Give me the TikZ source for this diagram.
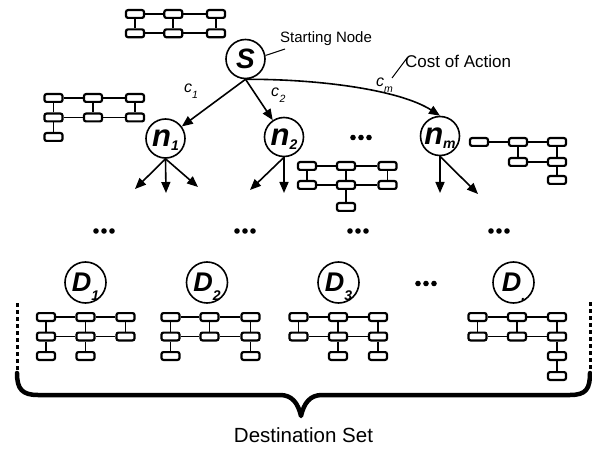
\documentclass[tikz,border=0pt]{standalone}
\usepackage{fontspec}
\setmainfont{Liberation Sans}
\usetikzlibrary{arrows.meta}

% two rows of three linked cells, every column joined top to bottom
\newcommand\blockgrid[6]{%
  \node[cell] (#1-11) at (#2,#5) {};
  \node[cell] (#1-12) at (#3,#5) {};
  \node[cell] (#1-13) at (#4,#5) {};
  \node[cell] (#1-21) at (#2,#6) {};
  \node[cell] (#1-22) at (#3,#6) {};
  \node[cell] (#1-23) at (#4,#6) {};
  \draw[link] (#1-11) -- (#1-12) -- (#1-13)
              (#1-21) -- (#1-22) -- (#1-23)
              (#1-11) -- (#1-21) (#1-12) -- (#1-22) (#1-13) -- (#1-23);
}
% three heavy dots standing for omitted items
\newcommand\dotrow[2]{%
  \foreach \dx in {-8,0,8} \fill (#1+\dx,#2) circle (2.8pt);
}
% bold italic state label with a lowered index
\newcommand\statelab[3]{#1\smash{\raisebox{#3}{\fontsize{14}{14}\selectfont #2}}}
% italic cost label with a lowered index
\newcommand\costlab[3]{{\fontsize{16}{16}\selectfont\itshape c}\kern#3{\fontsize{10.5}{10.5}\selectfont\itshape\raisebox{-6pt}{#2}}}

\tikzset{
  state/.style={circle, draw, line width=1.6pt, inner sep=0pt, minimum size=39pt,
                font=\fontsize{28}{28}\selectfont\bfseries\itshape},
  nstate/.style={state, font=\fontsize{31}{31}\selectfont\bfseries\itshape},
  dstate/.style={state, minimum size=41pt, font=\fontsize{27}{27}\selectfont\bfseries\itshape},
  cell/.style={draw, line width=2.2pt, rounded corners=2pt, minimum width=18pt,
               minimum height=7.8pt, inner sep=0pt},
  link/.style={line width=1.7pt},
  move/.style={line width=1.6pt, -{Triangle[length=11pt,width=9pt]}},
  leader/.style={line width=1pt},
  lab/.style={inner sep=0pt, anchor=base west},
  brace/.style={line width=4.5pt, line cap=round, line join=round},
  fence/.style={line width=3pt, dash pattern=on 4pt off 3pt},
}

\begin{document}
\begin{tikzpicture}[x=1pt, y=-1pt]
\path[use as bounding box, fill=white] (0,0) rectangle (592,449);

% search tree
\node[state]  (S)  at (245.5,59)  {S};
\node[nstate] (n1) at (165.5,138.5) {\statelab{n}{1}{-4pt}};
\node[nstate] (n2) at (284,137)   {\statelab{n}{2}{-4pt}};
\node[nstate] (nm) at (440,136)   {\statelab{n}{m}{-4pt}};

\draw[move] (S.south) -- (n1);
\draw[move] (S.south) -- (n2);
\draw[move] (S.south) .. controls (320,79) and (400,90) .. (nm.north);

\node[lab] (c1) at (184,93) {\costlab{c}{1}{0pt}};
\node[lab] (c2) at (271,97) {\costlab{c}{2}{0.5pt}};
\node[lab] (cm) at (376,87) {\costlab{c}{m}{0pt}};

\node[lab, font=\fontsize{15}{15}\selectfont] (sn) at (280,43) {Starting Node};
\node[lab, font=\fontsize{17}{17}\selectfont] (ca) at (405,68) {Cost of Action};
\coordinate (snfoot) at (285,49);
\coordinate (cafoot) at (407,58);
\coordinate (cmtop) at (392,78);
\draw[leader] (S.10) -- (snfoot);
\draw[leader] (cmtop) -- (cafoot);

% successor arrows
\coordinate (t11) at (135,189);
\coordinate (t12) at (166,193);
\coordinate (t13) at (198,187);
\coordinate (t21) at (250,190);
\coordinate (t22) at (284,193);
\coordinate (tm1) at (440,193);
\coordinate (tm2) at (478,194);
\draw[move] (n1.south) -- (t11);
\draw[move] (n1.south) -- (t12);
\draw[move] (n1.south) -- (t13);
\draw[move] (n2.south) -- (t21);
\draw[move] (n2.south) -- (t22);
\draw[move] (nm.south) -- (tm1);
\draw[move] (nm.south) -- (tm2);

% states of the tree nodes
\blockgrid{a}{135}{173.3}{216}{14}{33.3}
\blockgrid{b}{53.5}{93}{135}{98}{117.5}
\node[cell] (b-31) at (53.5,137) {};
\draw[link] (b-21) -- (b-31);
\blockgrid{c}{307}{346}{387.5}{166}{185}
\node[cell] (c-32) at (346,207) {};
\draw[link] (c-22) -- (c-32);

\node[cell] (d-10) at (479,142) {};
\node[cell] (d-12) at (518,142) {};
\node[cell] (d-13) at (557,142) {};
\node[cell] (d-22) at (518,162) {};
\node[cell] (d-23) at (557,162) {};
\node[cell] (d-33) at (557,180) {};
\draw[link] (d-10) -- (d-12) -- (d-13) (d-22) -- (d-23)
            (d-12) -- (d-22) (d-13) -- (d-23) -- (d-33);

% omitted levels
\dotrow{361}{137.5}
\dotrow{104}{231}
\dotrow{245}{231}
\dotrow{358}{231}
\dotrow{499}{231}
\dotrow{426}{283.5}

% destination states
\node[dstate] (D1) at (85.5,282.5)  {\statelab{D}{1}{-9pt}};
\node[dstate] (D2) at (207,282.5)   {\statelab{D}{2}{-9pt}};
\node[dstate] (D3) at (338.5,282.5) {\statelab{D}{3}{-9pt}};
\node[dstate] (Dk) at (513.5,282.5) {\statelab{D}{.}{-9pt}};

\blockgrid{e}{46}{85.5}{125.5}{317}{336.5}
\node[cell] (e-31) at (46,356) {};
\node[cell] (e-32) at (85.5,356) {};
\draw[link] (e-21) -- (e-31) (e-22) -- (e-32);

\blockgrid{f}{170.5}{209.5}{250.5}{317}{336.5}
\node[cell] (f-31) at (170.5,356) {};
\node[cell] (f-33) at (250.5,356) {};
\draw[link] (f-21) -- (f-31) (f-23) -- (f-33);

\blockgrid{g}{298.5}{338}{378}{317}{336.5}
\node[cell] (g-32) at (338,356) {};
\node[cell] (g-33) at (378,356) {};
\draw[link] (g-22) -- (g-32) (g-23) -- (g-33);

\blockgrid{h}{477.5}{517}{557}{317}{336.5}
\node[cell] (h-33) at (557,356) {};
\node[cell] (h-43) at (557,376) {};
\draw[link] (h-23) -- (h-33) -- (h-43);

% destination set brace
\draw[fence] (17,303) -- (17,370);
\draw[fence] (590,302) -- (590,371);
\draw[brace] (17,373) .. controls (17,389) and (22,395) .. (38,395) -- (280,395)
  .. controls (292,395) and (298,403) .. (301,416)
  .. controls (304,403) and (310,395) .. (322,395) -- (570,395)
  .. controls (586,395) and (590,389) .. (590,373);
\node[anchor=base, inner sep=0pt, font=\fontsize{20.5}{20.5}\selectfont] (dset) at (303.5,442) {Destination Set};
\end{tikzpicture}
\end{document}
